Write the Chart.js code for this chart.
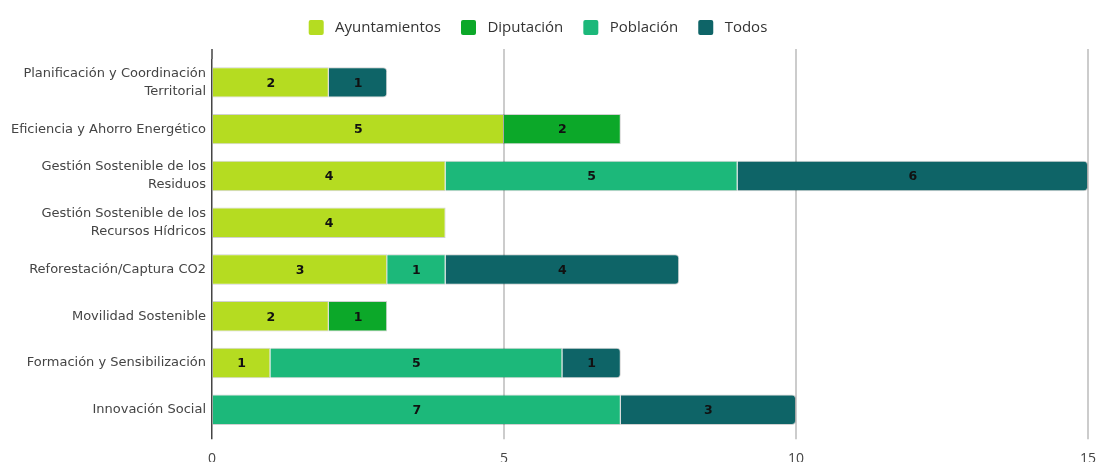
<!DOCTYPE html>
<html>
<head>
<meta charset="utf-8">
<script src="https://cdn.jsdelivr.net/npm/chart.js@4/dist/chart.umd.min.js"></script>
<style>
  html, body { margin: 0; padding: 0; background: #fff; overflow: hidden; }
  #wrap { position: relative; width: 1098px; height: 478px; }
</style>
</head>
<body>
<div id="wrap"><canvas id="chart"></canvas></div>
<script>
// categorías (eje Y)
const categories = [
  ['Planificación y Coordinación', 'Territorial'],
  'Eficiencia y Ahorro Energético',
  ['Gestión Sostenible de los', 'Residuos'],
  ['Gestión Sostenible de los', 'Recursos Hídricos'],
  'Reforestación/Captura CO2',
  'Movilidad Sostenible',
  'Formación y Sensibilización',
  'Innovación Social',
];

const seriesNames = ['Ayuntamientos', 'Diputación', 'Población', 'Todos'];
const seriesColors = ['#b5dc21', '#0ca829', '#1cb87a', '#0e6467'];

const ayuntamientos = [2, 5, 4, 4, 3, 2, 1, null];
const diputacion    = [null, 2, null, null, null, 1, null, null];
const poblacion     = [null, null, 5, null, 1, null, 5, 7];
const todos         = [1, null, 6, null, 4, null, 1, 3];

const xTicks = [0, 5, 10, 15];

const seriesData = [ayuntamientos, diputacion, poblacion, todos];

// etiquetas de valor centradas en cada segmento
const segmentLabels = {
  id: 'segmentLabels',
  afterDatasetsDraw(chart) {
    const { ctx } = chart;
    ctx.save();
    ctx.font = "bold 12.5px 'DejaVu Sans', Verdana, sans-serif";
    ctx.fillStyle = '#111';
    ctx.textAlign = 'center';
    ctx.textBaseline = 'middle';
    chart.data.datasets.forEach((ds, i) => {
      const meta = chart.getDatasetMeta(i);
      meta.data.forEach((bar, j) => {
        const v = ds.data[j];
        if (v == null) return;
        const p = bar.getCenterPoint();
        ctx.fillText(String(v), p.x, p.y + 1);
      });
    });
    ctx.restore();
  },
};

// prolonga la rejilla vertical un poco por encima del área
const gridTop = {
  id: 'gridTop',
  beforeDatasetsDraw(chart) {
    const { ctx, chartArea, scales } = chart;
    ctx.save();
    xTicks.forEach(t => {
      const x = scales.x.getPixelForValue(t);
      ctx.beginPath();
      ctx.strokeStyle = t === 0 ? '#444' : '#cccccc';
      ctx.lineWidth = t === 0 ? 1.5 : 2;
      ctx.moveTo(x, chartArea.top - 10);
      ctx.lineTo(x, chartArea.top);
      ctx.stroke();
    });
    ctx.restore();
  },
};

// más espacio bajo la leyenda y leyenda algo desplazada a la izquierda
const legendGap = {
  id: 'legendGap',
  beforeInit(chart) {
    const fit = chart.legend.fit;
    chart.legend.fit = function () {
      fit.call(this);
      this.height += 14;
    };
  },
  afterLayout(chart) {
    chart.legend.left -= 11;
    chart.legend.right -= 11;
  },
};

new Chart(document.getElementById('chart'), {
  type: 'bar',
  data: {
    labels: categories,
    datasets: seriesNames.map((name, i) => ({
      label: name,
      data: seriesData[i],
      backgroundColor: seriesColors[i],
      borderColor: 'rgba(0,0,0,0.18)',
      borderWidth: 1,
      borderRadius: i === 3 ? 4 : 0,
      categoryPercentage: 1,
      barPercentage: 0.65,
    })),
  },
  options: {
    indexAxis: 'y',
    responsive: true,
    maintainAspectRatio: false,
    animation: false,
    layout: { padding: { top: 0, right: 0, bottom: 0, left: 0 } },
    plugins: {
      legend: {
        position: 'top',
        labels: {
          font: { family: "'Open Sans', sans-serif", size: 15 },
          color: '#333',
          boxWidth: 15,
          boxHeight: 15,
          padding: 20,
          useBorderRadius: true,
          borderRadius: 2,
          generateLabels: chart => Chart.defaults.plugins.legend.labels.generateLabels(chart)
            .map(l => ({ ...l, text: ' ' + l.text, lineWidth: 0, strokeStyle: 'transparent' })),
        },
      },
      tooltip: { enabled: false },
    },
    scales: {
      x: {
        stacked: true,
        min: 0,
        max: 15,
        afterBuildTicks: scale => { scale.ticks = xTicks.map(v => ({ value: v })); },
        afterFit: scale => { scale.paddingRight = 10; },
        grid: {
          color: c => (c.tick && c.tick.value === 0 ? '#444' : '#cccccc'),
          lineWidth: c => (c.tick && c.tick.value === 0 ? 1.5 : 2),
          tickLength: 6,
        },
        border: { display: false },
        ticks: {
          font: { family: "'Open Sans', sans-serif", size: 14 },
          color: '#444',
          padding: 11,
        },
      },
      y: {
        stacked: true,
        afterFit: scale => { scale.width = 212; },
        grid: { display: false, drawTicks: false },
        border: { display: false },
        ticks: {
          font: { family: "'DejaVu Sans', Verdana, sans-serif", size: 13, lineHeight: 1.4 },
          color: '#444',
          padding: 6,
        },
      },
    },
  },
  plugins: [segmentLabels, gridTop, legendGap],
});
</script>
</body>
</html>
